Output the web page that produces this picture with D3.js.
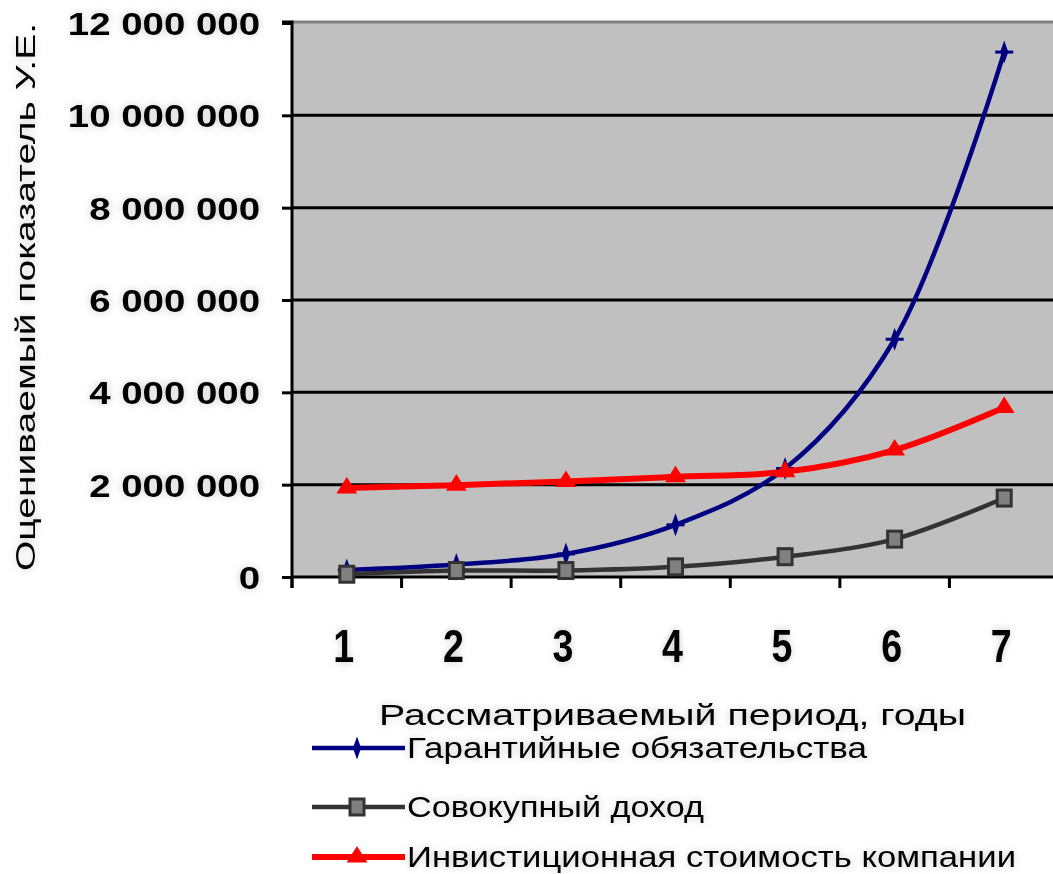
<!DOCTYPE html>
<html>
<head>
<meta charset="utf-8">
<script src="https://cdn.jsdelivr.net/npm/d3@7"></script>
<style>
  html, body { margin: 0; padding: 0; background: #ffffff; }
  svg { display: block; }
  text { font-family: "Liberation Sans", Arial, sans-serif; fill: #000; }
</style>
</head>
<body>
<svg id="chart" width="1053" height="874"></svg>
<script>
// ---- data ----
const categories = ["1", "2", "3", "4", "5", "6", "7"];
const guaranteeObligations = [150000, 270000, 500000, 1130000, 2350000, 5150000, 11370000];
const totalIncome = [60000, 140000, 140000, 220000, 440000, 820000, 1710000];
const investmentValue = [1930000, 1990000, 2070000, 2170000, 2280000, 2750000, 3670000];
const yTicks = [0, 2000000, 4000000, 6000000, 8000000, 10000000, 12000000];
const seriesNames = ["Гарантийные обязательства", "Совокупный доход", "Инвистиционная стоимость компании"];
const xTitle = "Рассматриваемый период, годы";
const yTitle = "Оцениваемый показатель  У.Е.";

const series = [
  { name: seriesNames[0], values: guaranteeObligations, color: "#000080", width: 4.5, marker: "plus" },
  { name: seriesNames[1], values: totalIncome, color: "#333333", width: 4.5, marker: "square" },
  { name: seriesNames[2], values: investmentValue, color: "#ff0000", width: 6, marker: "triangle" }
];

const svg = d3.select("#chart");

// halo filter imitating the blurred source
const defs = svg.append("defs");
const f = defs.append("filter").attr("id", "halo").attr("x", "-20%").attr("y", "-40%").attr("width", "140%").attr("height", "180%");
f.append("feGaussianBlur").attr("in", "SourceAlpha").attr("stdDeviation", 4).attr("result", "b");
f.append("feComponentTransfer").attr("in", "b").attr("result", "b2")
  .append("feFuncA").attr("type", "linear").attr("slope", 0.22);
const m = f.append("feMerge");
m.append("feMergeNode").attr("in", "b2");
m.append("feMergeNode").attr("in", "SourceGraphic");

const plotLeft = 292, plotTop = 22, plotBottom = 577, bandRight = 1059;

const x = d3.scaleBand().domain(categories).range([plotLeft, bandRight]).padding(0);
const y = d3.scaleLinear().domain([0, 12000000]).range([plotBottom, 23]);
const xc = c => x(c) + x.bandwidth() / 2;

// plot background
svg.append("rect")
  .attr("x", plotLeft).attr("y", plotTop)
  .attr("width", 1053 - plotLeft).attr("height", plotBottom - plotTop)
  .attr("fill", "#c0c0c0");

// top border (gray)
svg.append("line")
  .attr("x1", plotLeft).attr("x2", 1053).attr("y1", plotTop).attr("y2", plotTop)
  .attr("stroke", "#808080").attr("stroke-width", 3);

// gridlines
svg.append("g").selectAll("line").data(yTicks.filter(v => v > 0 && v < 12000000)).join("line")
  .attr("x1", plotLeft).attr("x2", 1053)
  .attr("y1", d => y(d)).attr("y2", d => y(d))
  .attr("stroke", "#000").attr("stroke-width", 3);

// y axis
const fmt = d3.formatLocale({ decimal: ",", thousands: " ", grouping: [3], currency: ["", ""] }).format(",d");
const yAxis = d3.axisLeft(y).tickValues(yTicks).tickSize(10).tickPadding(22).tickFormat(fmt);
const gy = svg.append("g").attr("transform", `translate(${plotLeft},0)`).call(yAxis);
gy.select(".domain").attr("stroke", "#000").attr("stroke-width", 3)
  .attr("d", `M-10,${plotTop}H0V${plotBottom + 11}`);
gy.selectAll(".tick line").attr("stroke", "#000").attr("stroke-width", 3);
gy.selectAll(".tick text")
  .attr("font-size", 32).attr("font-weight", "bold").attr("font-family", "Liberation Sans, Arial, sans-serif")
  .attr("dy", "0.36em").attr("filter", "url(#halo)");
gy.selectAll(".tick text").each(function () {
  const w = this.getComputedTextLength();
  d3.select(this).attr("textLength", w * 1.2).attr("lengthAdjust", "spacingAndGlyphs");
});

// x axis baseline and ticks at band edges
svg.append("line").attr("x1", plotLeft).attr("x2", 1053).attr("y1", plotBottom).attr("y2", plotBottom)
  .attr("stroke", "#000").attr("stroke-width", 3);
svg.append("g").selectAll("line").data(categories).join("line")
  .attr("x1", d => x(d)).attr("x2", d => x(d))
  .attr("y1", plotBottom).attr("y2", plotBottom + 11)
  .attr("stroke", "#000").attr("stroke-width", 3);
// category labels
svg.append("g").selectAll("text").data(categories).join("text")
  .attr("x", d => xc(d) - 3).attr("y", 662)
  .attr("text-anchor", "middle")
  .attr("font-size", 47).attr("font-weight", "bold")
  .attr("filter", "url(#halo)")
  .attr("transform", d => `translate(${(xc(d) - 3) * 0.2},0) scale(0.8,1)`)
  .text(d => d);

// axis titles
svg.append("text")
  .attr("x", 379).attr("y", 725)
  .attr("font-size", 30)
  .attr("textLength", 587).attr("lengthAdjust", "spacingAndGlyphs")
  .attr("filter", "url(#halo)")
  .text(xTitle);

svg.append("text")
  .attr("transform", "translate(35,297) rotate(-90)")
  .attr("text-anchor", "middle")
  .attr("font-size", 28)
  .attr("textLength", 548).attr("lengthAdjust", "spacingAndGlyphs")
  .attr("filter", "url(#halo)")
  .text(yTitle);

// lines
const line = d3.line()
  .x((d, i) => xc(categories[i]))
  .y(d => y(d))
  .curve(d3.curveCatmullRom.alpha(0.5));

function drawMarker(g, type, cx, cy, color) {
  if (type === "plus") {
    g.append("path")
      .attr("d", d3.symbol().type(d3.symbolDiamond).size(90)())
      .attr("transform", `translate(${cx},${cy}) scale(0.8,1.3)`)
      .attr("fill", color);
    g.append("rect").attr("x", cx - 9).attr("y", cy - 1.5).attr("width", 18).attr("height", 3).attr("fill", color);
  } else if (type === "square") {
    g.append("rect").attr("x", cx - 7).attr("y", cy - 8).attr("width", 14).attr("height", 16)
      .attr("fill", "#808080").attr("stroke", "#333333").attr("stroke-width", 3);
  } else {
    g.append("path")
      .attr("d", d3.symbol().type(d3.symbolTriangle).size(130)())
      .attr("transform", `translate(${cx},${cy}) scale(1.2,1.1)`)
      .attr("fill", color);
  }
}

series.forEach(s => {
  svg.append("path")
    .datum(s.values)
    .attr("d", line)
    .attr("fill", "none")
    .attr("stroke", s.color)
    .attr("stroke-width", s.width)
    .attr("stroke-linejoin", "round");
  const g = svg.append("g");
  s.values.forEach((v, i) => drawMarker(g, s.marker, xc(categories[i]), y(v), s.color));
});

// legend
const legendRows = [758, 817, 867];
series.forEach((s, i) => {
  const ly = legendRows[i] - 10;
  svg.append("line").attr("x1", 312).attr("x2", 405).attr("y1", ly).attr("y2", ly)
    .attr("stroke", s.color).attr("stroke-width", s.width);
  const g = svg.append("g");
  drawMarker(g, s.marker, 357, ly, s.color);
});
const legendWidths = [460, 297, 609];
svg.append("g").selectAll("text").data(series).join("text")
  .attr("x", 407).attr("y", (d, i) => legendRows[i])
  .attr("font-size", 30)
  .attr("textLength", (d, i) => legendWidths[i]).attr("lengthAdjust", "spacingAndGlyphs")
  .attr("filter", "url(#halo)")
  .text(d => d.name);
</script>
</body>
</html>
